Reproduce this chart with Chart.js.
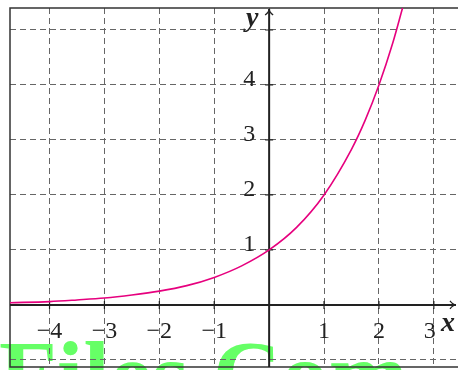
<!DOCTYPE html>
<html>
<head>
<meta charset="utf-8">
<script src="https://cdn.jsdelivr.net/npm/chart.js@4"></script>
<style>
  html, body { margin: 0; padding: 0; background: #fff; }
  #wrap { width: 458px; height: 370px; }
</style>
</head>
<body>
<div id="wrap"><canvas id="myChart" width="458" height="370"></canvas></div>
<script>
// points
const xValues = [-4.72, -4, -3.5, -3, -2.5, -2, -1.5, -1, -0.5, 0, 0.5, 1, 1.5, 1.75, 2, 2.25, 2.43];
const yValues = [0.04, 0.06, 0.09, 0.125, 0.18, 0.25, 0.35, 0.5, 0.71, 1, 1.41, 2, 2.83, 3.36, 4, 4.76, 5.4];

const xTicks = [-4, -3, -2, -1, 1, 2, 3];
const xTickLabels = ['\u22124', '\u22123', '\u22122', '\u22121', '1', '2', '3'];
const yTicks = [1, 2, 3, 4];
const yTickLabels = ['1', '2', '3', '4'];

const serif = '"Liberation Serif", "DejaVu Serif", serif';

const watermark = {
    id: 'watermark',
    beforeDraw(chart) {
        const ctx = chart.ctx;
        ctx.save();
        ctx.fillStyle = '#66ff66';
        ctx.font = 'bold 95px ' + serif;
        ctx.textBaseline = 'alphabetic';
        ctx.fillText('Files.Com', -1, 407);
        ctx.restore();
    }
};

const axesDrawer = {
    id: 'axesDrawer',
    beforeDatasetsDraw(chart) {
        const ctx = chart.ctx;
        const a = chart.chartArea;
        const xs = chart.scales.x, ys = chart.scales.y;
        const x0 = xs.getPixelForValue(0), y0 = ys.getPixelForValue(0);
        ctx.save();
        // frame
        ctx.strokeStyle = '#333';
        ctx.lineWidth = 1.5;
        ctx.beginPath();
        ctx.moveTo(chart.width, a.top);
        ctx.lineTo(a.left, a.top);
        ctx.lineTo(a.left, a.bottom);
        ctx.lineTo(chart.width, a.bottom);
        ctx.stroke();
        // axes
        ctx.strokeStyle = '#222';
        ctx.lineWidth = 2;
        ctx.beginPath();
        ctx.moveTo(a.left, y0);
        ctx.lineTo(chart.width - 2, y0);
        ctx.moveTo(x0, a.bottom);
        ctx.lineTo(x0, a.top + 1);
        ctx.stroke();
        // arrow heads
        ctx.lineWidth = 1.3;
        ctx.beginPath();
        ctx.moveTo(chart.width - 8, y0 - 4);
        ctx.quadraticCurveTo(chart.width - 5, y0, chart.width - 2, y0);
        ctx.quadraticCurveTo(chart.width - 5, y0, chart.width - 8, y0 + 4);
        ctx.moveTo(x0 - 4, a.top + 7);
        ctx.quadraticCurveTo(x0, a.top + 4, x0, a.top + 1);
        ctx.quadraticCurveTo(x0, a.top + 4, x0 + 4, a.top + 7);
        ctx.stroke();
        // tick marks
        ctx.lineWidth = 1.2;
        ctx.beginPath();
        xTicks.forEach(v => {
            const px = xs.getPixelForValue(v);
            ctx.moveTo(px, y0 - 4);
            ctx.lineTo(px, y0 + 4);
        });
        yTicks.concat([5]).forEach(v => {
            const py = ys.getPixelForValue(v);
            ctx.moveTo(x0 - 4, py);
            ctx.lineTo(x0 + 4, py);
        });
        ctx.stroke();
        ctx.restore();
    },
    afterDraw(chart) {
        const ctx = chart.ctx;
        const xs = chart.scales.x, ys = chart.scales.y;
        const x0 = xs.getPixelForValue(0), y0 = ys.getPixelForValue(0);
        ctx.save();
        ctx.fillStyle = '#222';
        ctx.font = '24px ' + serif;
        ctx.textBaseline = 'alphabetic';
        ctx.textAlign = 'center';
        xTicks.forEach((v, i) => {
            let px = xs.getPixelForValue(v);
            if (v === 3) px -= 4;
            ctx.fillText(xTickLabels[i], px, y0 + 33);
        });
        ctx.textAlign = 'right';
        yTicks.forEach((v, i) => {
            ctx.fillText(yTickLabels[i], x0 - 14, ys.getPixelForValue(v) + 1);
        });
        ctx.font = 'bold italic 28px ' + serif;
        ctx.textAlign = 'center';
        ctx.fillText('y', x0 - 17, 26);
        ctx.textAlign = 'left';
        ctx.fillText('x', chart.width - 17, y0 + 26);
        ctx.restore();
    }
};

const ctx = document.getElementById('myChart').getContext('2d');
const myChart = new Chart(ctx, {
    type: 'scatter',
    data: {
        datasets: [{
            data: xValues.map((x, i) => ({ x: x, y: yValues[i] })),
            showLine: true,
            borderColor: 'rgb(230, 0, 126)',
            borderWidth: 1.6,
            pointRadius: 0,
            cubicInterpolationMode: 'monotone',
            fill: false
        }]
    },
    options: {
        responsive: false,
        animation: false,
        layout: { padding: { left: 10, top: 8, right: 0, bottom: 3 } },
        plugins: { legend: { display: false }, tooltip: { enabled: false } },
        scales: {
            x: {
                type: 'linear',
                min: -4.72,
                max: 3.44,
                ticks: { display: false, stepSize: 1, includeBounds: false },
                grid: { color: '#666', lineWidth: 1, drawTicks: false },
                border: { display: false, dash: [6, 4] }
            },
            y: {
                type: 'linear',
                min: -1.13,
                max: 5.4,
                ticks: { display: false, stepSize: 1, includeBounds: false },
                grid: { color: '#666', lineWidth: 1, drawTicks: false },
                border: { display: false, dash: [6, 4] }
            }
        }
    },
    plugins: [watermark, axesDrawer]
});
</script>
</body>
</html>
